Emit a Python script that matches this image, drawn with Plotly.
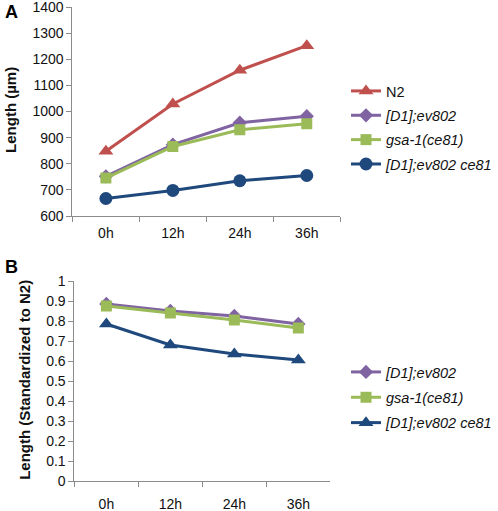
import plotly.graph_objects as go

times = ["0h", "12h", "24h", "36h"]

# Panel A: length (µm)
a_n2 = [848, 1029, 1158, 1252]
a_d1 = [752, 873, 957, 982]
a_gsa = [745, 866, 930, 953]
a_d1ce = [667, 698, 735, 755]

# Panel B: standardized to N2
b_d1 = [0.885, 0.85, 0.825, 0.785]
b_gsa = [0.875, 0.84, 0.805, 0.765]
b_d1ce = [0.785, 0.68, 0.635, 0.605]

RED = "#C0504D"
PURPLE = "#8064A2"
GREEN = "#9BBB59"
BLUE = "#1F497D"
FONT = "Liberation Sans, Arial, sans-serif"

fig = go.Figure()

def add(x, y, name, color, symbol, size, xa, ya, legend, grp):
    fig.add_trace(go.Scatter(
        x=x, y=y, name=name, mode="lines+markers",
        line=dict(color=color, width=3),
        marker=dict(color=color, symbol=symbol, size=size),
        xaxis=xa, yaxis=ya, legend=legend, legendgroup=grp))

add(times, a_n2, "N2", RED, "triangle-up", 13, "x", "y", "legend", "a1")
add(times, a_d1, "<i>[D1];ev802</i>", PURPLE, "diamond", 11, "x", "y", "legend", "a2")
add(times, a_gsa, "<i>gsa-1(ce81)</i>", GREEN, "square", 11, "x", "y", "legend", "a3")
add(times, a_d1ce, "<i>[D1];ev802 ce81</i>", BLUE, "circle", 13, "x", "y", "legend", "a4")

add(times, b_d1, "<i>[D1];ev802</i>", PURPLE, "diamond", 11, "x2", "y2", "legend2", "b1")
add(times, b_gsa, "<i>gsa-1(ce81)</i>", GREEN, "square", 11, "x2", "y2", "legend2", "b2")
add(times, b_d1ce, "<i>[D1];ev802 ce81</i>", BLUE, "triangle-up", 13, "x2", "y2", "legend2", "b3")

W, H = 498, 511
xcommon = dict(showgrid=False, showline=True, linecolor="#8c8c8c", linewidth=1,
               ticks="outside", tickson="boundaries", ticklen=5, tickcolor="#8c8c8c",
               tickfont=dict(family=FONT, size=14, color="#111"), zeroline=False,
               type="category", automargin=False, ticklabeloverflow="allow")
ycommon = dict(showgrid=False, showline=True, linecolor="#8c8c8c", linewidth=1,
               ticks="outside", ticklen=5, tickcolor="#8c8c8c",
               tickfont=dict(family=FONT, size=14, color="#111"), zeroline=False,
               automargin=False, ticklabeloverflow="allow")

legfont = dict(family=FONT, size=14.5, color="#111")

fig.update_layout(
    width=W, height=H,
    margin=dict(l=0, r=0, t=0, b=0),
    paper_bgcolor="white", plot_bgcolor="white",
    font=dict(family=FONT, color="#111"),
    xaxis=dict(domain=[73/W, 343/W], anchor="y", range=[-0.5, 3.5],
               ticklabelstandoff=4, **xcommon),
    yaxis=dict(domain=[1-216/H, 1-7/H], anchor="x", range=[600, 1400], dtick=100,
               **ycommon),
    xaxis2=dict(domain=[75/W, 333/W], anchor="y2", range=[-0.5, 3.5],
                ticklabelstandoff=10, **xcommon),
    yaxis2=dict(domain=[1-481/H, 1-281/H], anchor="x2", range=[0, 1], dtick=0.1,
                **ycommon),
    legend=dict(x=349/W, y=1-75/H, xanchor="left", yanchor="top",
                font=legfont, tracegroupgap=2.5,
                itemwidth=30, bgcolor="rgba(0,0,0,0)"),
    legend2=dict(x=349/W, y=1-356/H, xanchor="left", yanchor="top",
                 font=legfont, tracegroupgap=3.5,
                 itemwidth=30, bgcolor="rgba(0,0,0,0)"),
    annotations=[
        dict(text="<b>A</b>", x=3/W, y=1-12/H, xref="paper", yref="paper",
             xanchor="left", yanchor="middle", showarrow=False,
             font=dict(family=FONT, size=18, color="#000")),
        dict(text="<b>B</b>", x=3/W, y=1-267/H, xref="paper", yref="paper",
             xanchor="left", yanchor="middle", showarrow=False,
             font=dict(family=FONT, size=18, color="#000")),
        dict(text="<b>Length (µm)</b>", x=10/W, y=1-110/H, xref="paper", yref="paper",
             xanchor="center", yanchor="middle", textangle=-90, showarrow=False,
             font=dict(family=FONT, size=15, color="#111")),
        dict(text="<b>Length (Standardized to N2)</b>", x=24/W, y=1-380/H,
             xref="paper", yref="paper", xanchor="center", yanchor="middle",
             textangle=-90, showarrow=False,
             font=dict(family=FONT, size=15, color="#111")),
    ],
)

fig.write_html("out.html", config={"displayModeBar": False},
               post_script="document.body.style.margin='0';")
